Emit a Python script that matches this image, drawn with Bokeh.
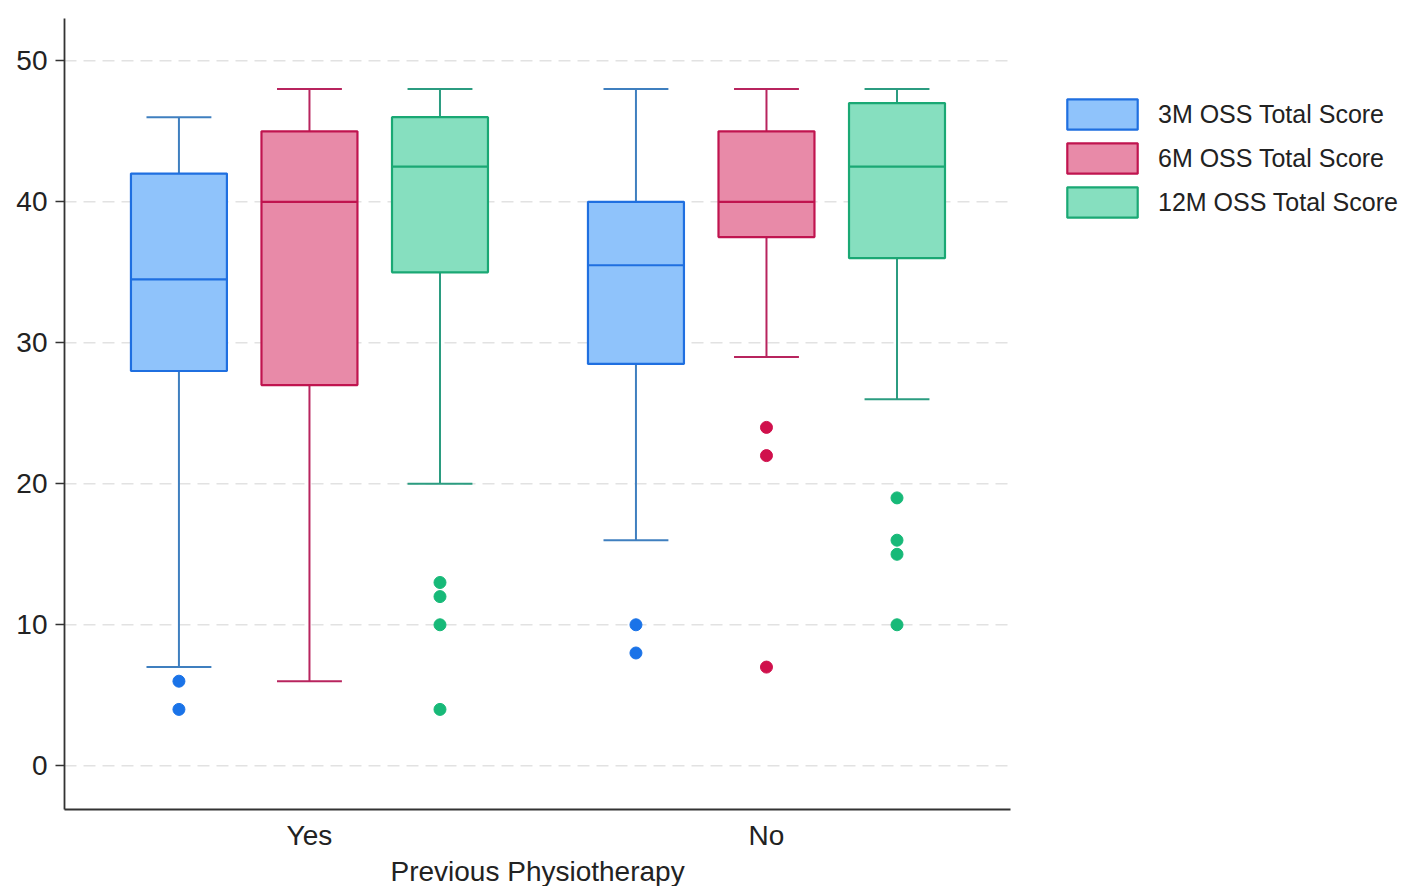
from bokeh.plotting import figure
from bokeh.models import Range1d, FixedTicker, Legend, LegendItem, ColumnDataSource, Title
from bokeh.embed import file_html
from bokeh.resources import INLINE

# ---- data (order: Yes-3M, Yes-6M, Yes-12M, No-3M, No-6M, No-12M)
groups = ["Yes", "No"]
series = ["3M OSS Total Score", "6M OSS Total Score", "12M OSS Total Score"]
upper = [46, 48, 48, 48, 48, 48]
q3 = [42, 45, 46, 40, 45, 47]
median = [34.5, 40, 42.5, 35.5, 40, 42.5]
q1 = [28, 27, 35, 28.5, 37.5, 36]
lower = [7, 6, 20, 16, 29, 26]
outliers = [[6, 4], [], [13, 12, 10, 4], [10, 8], [24, 22, 7], [19, 16, 15, 10]]
y_ticks = [0, 10, 20, 30, 40, 50]
x_title = "Previous Physiotherapy"

# ---- styles / layout
fills = ["#8fc3fb", "#e88aa8", "#86dfbf"]
borders = ["#1f6fe0", "#c0144f", "#1aa874"]
whisk = ["#3f7fbf", "#b8245e", "#2b9c80"]
dots = ["#1a73e8", "#d0104c", "#17b978"]
offsets = [-0.2856, 0.0, 0.2856]
box_w = 0.21
cap_w = 0.142
X_START, X_AXIS_END, X_END = 0.464, 2.534, 3.407
FONT = "Liberation Sans"

p = figure(width=1409, height=886, output_backend="svg", toolbar_location=None,
           x_range=Range1d(X_START, X_END), y_range=Range1d(-3.1, 53),
           min_border_left=64, min_border_right=0, min_border_top=18,
           min_border_bottom=76)
p.outline_line_color = None
p.background_fill_color = "white"
p.border_fill_color = "white"
p.xgrid.visible = False
p.ygrid.visible = False

# dashed horizontal grid limited to the axis extent
n = len(y_ticks)
p.segment(x0=[X_START] * n, y0=y_ticks, x1=[X_AXIS_END] * n, y1=y_ticks,
          line_color="#e2e2e2", line_width=1.5, line_dash="12 7", level="underlay")

legend_items = []
for si, name in enumerate(series):
    idx = [gi * 3 + si for gi in range(len(groups))]
    xs = [gi + 1 + offsets[si] for gi in range(len(groups))]
    src = ColumnDataSource(dict(
        x=xs,
        upper=[upper[i] for i in idx], q3=[q3[i] for i in idx],
        med=[median[i] for i in idx], q1=[q1[i] for i in idx],
        lower=[lower[i] for i in idx],
        x0=[x - box_w / 2 for x in xs], x1=[x + box_w / 2 for x in xs],
        c0=[x - cap_w / 2 for x in xs], c1=[x + cap_w / 2 for x in xs],
    ))
    p.segment("x", "q3", "x", "upper", source=src, line_color=whisk[si], line_width=2)
    p.segment("x", "q1", "x", "lower", source=src, line_color=whisk[si], line_width=2)
    p.segment("c0", "upper", "c1", "upper", source=src, line_color=whisk[si], line_width=2)
    p.segment("c0", "lower", "c1", "lower", source=src, line_color=whisk[si], line_width=2)
    r = p.vbar(x="x", width=box_w, top="q3", bottom="q1", source=src,
               fill_color=fills[si], line_color=borders[si], line_width=2.2)
    p.segment("x0", "med", "x1", "med", source=src, line_color=borders[si], line_width=2.2)
    ox, oy = [], []
    for gi, i in enumerate(idx):
        for v in outliers[i]:
            ox.append(gi + 1 + offsets[si])
            oy.append(v)
    p.scatter(ox, oy, size=12, fill_color=dots[si], line_color=dots[si])
    legend_items.append(LegendItem(label=name, renderers=[r]))

legend = Legend(items=legend_items, location=(994, 588), glyph_width=88, glyph_height=38,
                spacing=6, label_standoff=12, padding=0, margin=0,
                border_line_color=None, background_fill_alpha=0,
                label_text_font_size="25px", label_text_font=FONT, label_text_color="#222222")
p.add_layout(legend)

# axes
p.yaxis.ticker = FixedTicker(ticks=y_ticks)
p.yaxis.major_tick_out = 9
p.yaxis.major_tick_in = 0
p.yaxis.minor_tick_out = 0
p.yaxis.minor_tick_in = 0
p.yaxis.major_label_standoff = 8
p.yaxis.major_label_text_font_size = "28px"
p.yaxis.major_label_text_font = FONT
p.yaxis.major_label_text_color = "#222222"

p.xaxis.bounds = (X_START, X_AXIS_END)
p.xaxis.ticker = FixedTicker(ticks=[1, 2])
p.xaxis.major_label_overrides = {1: groups[0], 2: groups[1]}
p.xaxis.major_tick_out = 0
p.xaxis.major_tick_in = 0
p.xaxis.minor_tick_out = 0
p.xaxis.minor_tick_in = 0
p.xaxis.major_label_standoff = 10
p.xaxis.major_label_text_font_size = "28px"
p.xaxis.major_label_text_font = FONT
p.xaxis.major_label_text_color = "#222222"

for ax in (p.xaxis, p.yaxis):
    ax.axis_line_color = "#333333"
    ax.axis_line_width = 1.8
    ax.major_tick_line_color = "#333333"
    ax.major_tick_line_width = 1.5

# x-axis title, centred under the drawn axis extent
p.add_layout(Title(text=x_title, align="left", offset=326, standoff=0,
                   text_font_size="28px", text_font=FONT, text_font_style="normal",
                   text_color="#222222"), "below")

open("out.html", "w").write(file_html(p, INLINE))
